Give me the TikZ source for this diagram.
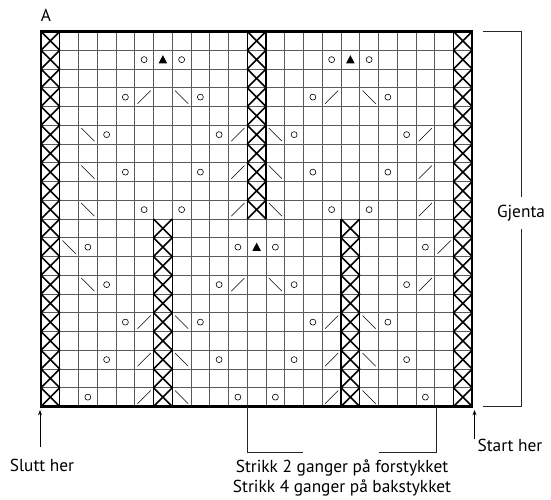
\documentclass[tikz,border=0pt]{standalone}
\usepackage{fontspec}
\setmainfont{PT Sans}
\usepackage{tikz}
\usetikzlibrary{arrows.meta}
\usepackage{xcolor}
\definecolor{ink}{HTML}{000000}
\definecolor{gridgray}{HTML}{5A5A5A}
\tikzset{gridline/.style={draw=gridgray,line width=.6pt},cellframe/.style={draw=ink,line width=.85pt},crossline/.style={draw=ink,line width=1.1pt},decline/.style={draw=ink,line width=.45pt},yarnover/.style={draw=ink,line width=.45pt},chartlabel/.style={font=\fontsize{13}{15.5}\selectfont,inner sep=1pt},bracketline/.style={draw=ink!85,line width=.75pt},pointer/.style={draw=ink,line width=.6pt,-{Stealth[length=4pt,width=3pt]}}}

\begin{document}
\begin{tikzpicture}[x=.75pt,y=-.75pt]
\useasboundingbox (0,0) rectangle (551,500);
\begin{scope}[shift={(41,31.5)},x=14.0625pt,y=-14.0625pt]
\foreach \c in {1,...,22} \draw[gridline] (\c,0)--(\c,20);
\foreach \r in {1,...,19} \draw[gridline] (0,\r)--(23,\r);
\foreach \c in {1,23} {
  \draw[cellframe] (\c-1,0)--(\c-1,20) (\c,0)--(\c,20);
  \foreach \r in {1,...,20} \draw[crossline] (\c-1,\r-1)--(\c,\r) (\c-1,\r)--(\c,\r-1);}
\draw[cellframe] (11,0)--(11,10) (12,0)--(12,10);
\foreach \r in {1,...,10} \draw[crossline] (11,\r-1)--(12,\r) (11,\r)--(12,\r-1);
\foreach \c in {7,17} {
  \draw[cellframe] (\c-1,10)--(\c-1,20) (\c,10)--(\c,20);
  \foreach \r in {11,...,20} \draw[crossline] (\c-1,\r-1)--(\c,\r) (\c-1,\r)--(\c,\r-1);}
\foreach \c/\r in {6/2,8/2,16/2,18/2,5/4,9/4,15/4,19/4,4/6,10/6,14/6,20/6,5/8,9/8,15/8,19/8,6/10,8/10,16/10,18/10,3/12,11/12,13/12,21/12,4/14,10/14,14/14,20/14,5/16,9/16,15/16,19/16,4/18,10/18,14/18,20/18,3/20,11/20,13/20,21/20}
  \draw[yarnover] (\c-.5,\r-.5) circle[radius=.16];
\foreach \c/\r in {6/4,16/4,11/6,21/6,11/8,21/8,11/10,21/10,22/12,11/14,21/14,6/16,16/16,6/18,16/18,6/20,16/20}
  \draw[decline] (\c-.85,\r-.15)--(\c-.15,\r-.85);
\foreach \c/\r in {8/4,18/4,3/6,13/6,3/8,13/8,3/10,13/10,2/12,3/14,13/14,8/16,18/16,8/18,18/18,8/20,18/20}
  \draw[decline] (\c-.85,\r-.85)--(\c-.15,\r-.15);
\foreach \c/\r in {7/2,17/2,12/12}
  \fill[ink] (\c-.5,\r-.74)--(\c-.73,\r-.3)--(\c-.27,\r-.3)--cycle;
\draw[ink,line width=1.6pt] (0,0) rectangle (23,20);
\end{scope}
\node[chartlabel] (lblA) at (46,15) {A};
\node[chartlabel,minimum height=23pt] (gjenta) at (521,213) {Gjenta};
\coordinate (reptop) at (483,31.5);
\coordinate (repbot) at (483,406.5);
\draw[bracketline] (reptop) -| (gjenta.north);
\draw[bracketline] (repbot) -| (gjenta.south);
\node[chartlabel,align=center] (strikk) at (342,478) {Strikk 2 ganger på forstykket\\Strikk 4 ganger på bakstykket};
\coordinate (frontL) at (247,406.5);
\coordinate (frontR) at (436,406.5);
\draw[bracketline] (frontL) -- ++(0,45.5) -- ++(56,0);
\draw[bracketline] (frontR) -- ++(0,45.5) -- ++(-57,0);
\node[chartlabel] (slutt) at (42,465) {Slutt her};
\coordinate (slutttail) at (40,447);
\coordinate (sluttend) at (40,410);
\draw[pointer] (slutttail) -- (sluttend);
\node[chartlabel,anchor=west] (start) at (476,445) {Start her};
\coordinate (starttail) at (474.5,439);
\coordinate (startend) at (474.5,410);
\draw[pointer] (starttail) -- (startend);
\end{tikzpicture}
\end{document}
